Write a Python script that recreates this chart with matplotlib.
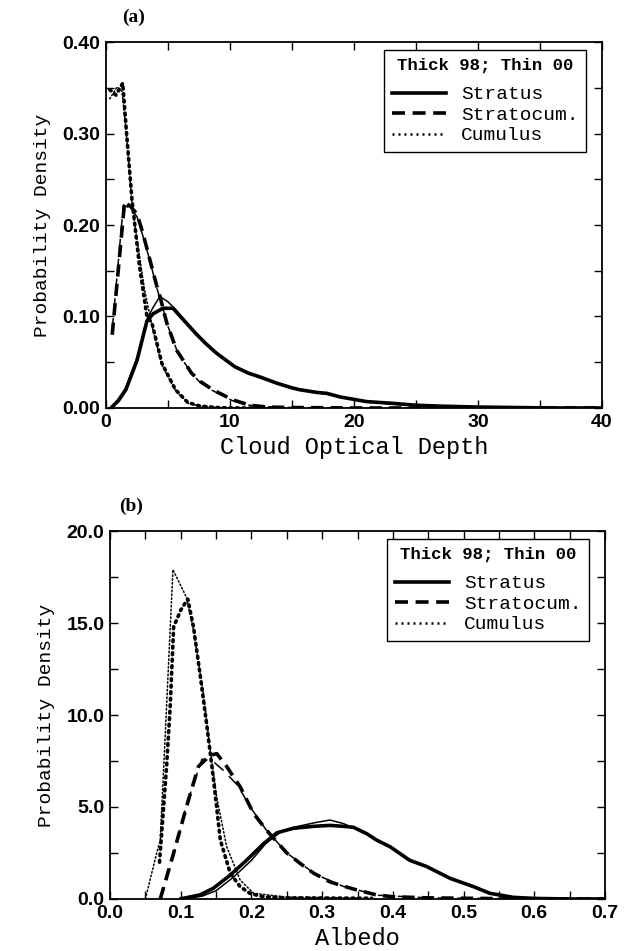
import numpy as np
import matplotlib
matplotlib.use("Agg")
import matplotlib.pyplot as plt
from matplotlib.lines import Line2D
from matplotlib.ticker import MultipleLocator, FormatStrFormatter

# ---- (a) cloud optical depth pdfs ----
tau_st98 = [0.4, 1.0, 1.6, 2.5, 3.3, 3.8, 4.6, 5.4, 6.4, 7.2, 8.0, 8.9, 10.4, 11.5, 12.4,
            13.8, 15.0, 15.6, 17.0, 17.8, 18.9, 21.0, 23.2, 25.0, 27.0, 30.0, 33.0, 36.0, 40.0]
pdf_st98 = [0.0, 0.008, 0.020, 0.052, 0.095, 0.103, 0.109, 0.109, 0.094, 0.082, 0.071, 0.060, 0.045, 0.038, 0.034,
            0.027, 0.022, 0.020, 0.017, 0.016, 0.012, 0.007, 0.005, 0.003, 0.002, 0.001, 0.0005, 0.0, 0.0]
tau_st00 = [0.4, 1.0, 1.6, 2.5, 3.3, 3.8, 4.35, 5.0, 5.6, 6.4, 7.2, 8.0, 8.9, 10.4, 12.4,
            13.8, 15.6, 17.8, 18.9, 21.0, 23.2, 27.0, 30.0, 35.0, 40.0]
pdf_st00 = [0.0, 0.010, 0.022, 0.055, 0.097, 0.110, 0.122, 0.116, 0.108, 0.095, 0.083, 0.071, 0.060, 0.045, 0.033,
            0.027, 0.020, 0.015, 0.012, 0.007, 0.004, 0.002, 0.001, 0.0, 0.0]

tau_sc98 = [0.5, 1.5, 2.0, 2.5, 3.0, 3.4, 4.1, 4.35, 4.9, 5.7, 6.9, 7.6, 8.6, 10.2, 11.6, 13.0, 15.0, 20.0, 30.0, 40.0]
pdf_sc98 = [0.080, 0.225, 0.220, 0.212, 0.190, 0.169, 0.133, 0.122, 0.093, 0.063, 0.038, 0.029, 0.020, 0.009, 0.003,
            0.001, 0.0005, 0.0, 0.0, 0.0]
tau_sc00 = [0.5, 1.4, 2.0, 2.5, 3.0, 3.5, 4.1, 4.4, 5.0, 5.8, 7.0, 7.6, 8.6, 10.2, 11.6, 13.0, 15.0, 20.0, 30.0, 40.0]
pdf_sc00 = [0.085, 0.222, 0.218, 0.209, 0.187, 0.163, 0.131, 0.118, 0.089, 0.060, 0.036, 0.028, 0.019, 0.008, 0.003,
            0.001, 0.0005, 0.0, 0.0, 0.0]

tau_cu98 = [0.3, 0.8, 1.35, 1.7, 2.1, 2.7, 3.3, 3.7, 4.5, 5.6, 6.6, 7.6, 9.0, 10.0, 14.0]
pdf_cu98 = [0.348, 0.342, 0.355, 0.293, 0.227, 0.155, 0.100, 0.093, 0.049, 0.020, 0.006, 0.002, 0.0005, 0.0, 0.0]
tau_cu00 = [0.3, 0.9, 1.3, 1.7, 2.1, 2.6, 3.1, 3.7, 4.5, 5.6, 6.6, 7.6, 9.0, 10.0, 14.0]
pdf_cu00 = [0.338, 0.351, 0.346, 0.290, 0.222, 0.175, 0.130, 0.090, 0.047, 0.019, 0.005, 0.002, 0.0005, 0.0, 0.0]

# ---- (b) albedo pdfs ----
alb_st98 = [0.099, 0.127, 0.146, 0.170, 0.193, 0.217, 0.236, 0.259, 0.288, 0.311, 0.330, 0.344, 0.363, 0.377,
            0.396, 0.424, 0.448, 0.481, 0.514, 0.537, 0.570, 0.600, 0.650, 0.700]
pdf_st98b = [0.0, 0.22, 0.58, 1.30, 2.10, 3.00, 3.60, 3.84, 3.95, 4.00, 3.95, 3.90, 3.55, 3.20,
             2.84, 2.10, 1.76, 1.12, 0.67, 0.31, 0.09, 0.03, 0.0, 0.0]
alb_st00 = [0.100, 0.130, 0.150, 0.175, 0.200, 0.220, 0.240, 0.260, 0.290, 0.311, 0.330, 0.360, 0.390, 0.420,
            0.450, 0.480, 0.510, 0.540, 0.570, 0.600, 0.650, 0.700]
pdf_st00b = [0.0, 0.15, 0.45, 1.20, 2.10, 3.00, 3.60, 3.90, 4.15, 4.29, 4.10, 3.60, 2.95, 2.20,
             1.70, 1.15, 0.70, 0.30, 0.09, 0.03, 0.0, 0.0]

alb_sc98 = [0.071, 0.090, 0.108, 0.125, 0.141, 0.151, 0.165, 0.184, 0.203, 0.221, 0.250, 0.269, 0.288, 0.311,
            0.330, 0.349, 0.377, 0.400, 0.450, 0.500, 0.550, 0.580, 0.620, 0.700]
pdf_sc98b = [0.0, 2.5, 5.0, 7.2, 7.8, 7.9, 7.2, 6.1, 4.65, 3.75, 2.5, 1.93, 1.4, 0.93,
             0.70, 0.49, 0.22, 0.12, 0.06, 0.04, 0.02, 0.01, 0.0, 0.0]
alb_sc00 = [0.072, 0.090, 0.108, 0.130, 0.145, 0.160, 0.180, 0.200, 0.220, 0.250, 0.290, 0.330, 0.380, 0.450,
            0.550, 0.620, 0.700]
pdf_sc00b = [0.0, 2.4, 5.1, 7.6, 7.5, 7.0, 6.2, 4.9, 3.8, 2.5, 1.35, 0.68, 0.2, 0.06, 0.02, 0.0, 0.0]

alb_cu98 = [0.070, 0.075, 0.080, 0.085, 0.090, 0.100, 0.110, 0.118, 0.127, 0.137, 0.146, 0.156, 0.170, 0.184,
            0.198, 0.217, 0.250, 0.300, 0.370]
pdf_cu98b = [2.0, 4.6, 7.2, 10.4, 14.8, 15.7, 16.3, 14.8, 12.3, 9.4, 6.6, 3.2, 1.4, 0.67,
             0.30, 0.12, 0.06, 0.05, 0.04]
alb_cu00 = [0.050, 0.066, 0.071, 0.080, 0.089, 0.108, 0.118, 0.132, 0.141, 0.151, 0.165, 0.184, 0.203, 0.250,
            0.300, 0.350]
pdf_cu00b = [0.0, 2.5, 3.2, 10.5, 17.9, 16.4, 14.6, 11.2, 8.3, 5.5, 2.84, 1.03, 0.31, 0.10, 0.08, 0.05]

legend_title = "Thick 98; Thin 00"
legend_names = ["Stratus", "Stratocum.", "Cumulus"]

MONO = "Liberation Mono"
SANS = "Liberation Sans"

thick = dict(color="black", lw=2.6)
thin = dict(color="black", lw=1.1)
solid = dict(ls="-", solid_capstyle="round")
dash_k = dict(ls=(0, (3.4, 2.0)), dash_capstyle="butt")
dash_n = dict(ls=(0, (8, 5)), dash_capstyle="butt")
dot_k = dict(ls=(0, (0.5, 1.3)), dash_capstyle="round")
dot_n = dict(ls=(0, (1.0, 1.5)), dash_capstyle="round")

fig = plt.figure(figsize=(6.28, 9.51), dpi=100)
ax_a = fig.add_axes([0.1688, 0.5710, 0.7898, 0.3848])
ax_b = fig.add_axes([0.1752, 0.0547, 0.7882, 0.3869])


def style_axes(ax, xmaj, xmin, ymaj, ymin, xfmt, yfmt):
    ax.xaxis.set_major_locator(MultipleLocator(xmaj))
    ax.xaxis.set_minor_locator(MultipleLocator(xmin))
    ax.yaxis.set_major_locator(MultipleLocator(ymaj))
    ax.yaxis.set_minor_locator(MultipleLocator(ymin))
    ax.xaxis.set_major_formatter(FormatStrFormatter(xfmt))
    ax.yaxis.set_major_formatter(FormatStrFormatter(yfmt))
    ax.tick_params(which="both", direction="in", top=True, right=True, width=1.0, color="black")
    ax.tick_params(which="major", length=6, pad=4)
    ax.tick_params(which="minor", length=6)
    for lab in ax.get_xticklabels() + ax.get_yticklabels():
        lab.set_fontfamily(SANS)
        lab.set_fontsize(14)
        lab.set_fontweight("bold")
    for s in ax.spines.values():
        s.set_linewidth(1.3)


def add_legend(ax):
    handles = [Line2D([], [], color="black", lw=2.6, ls="-"),
               Line2D([], [], color="black", lw=2.6, ls=(0, (3.6, 2.1))),
               Line2D([], [], color="black", lw=1.8, ls=(0, (0.8, 1.6)))]
    leg = ax.legend(handles, legend_names, title=legend_title, loc="upper right",
                    bbox_to_anchor=(0.968, 0.978), borderaxespad=0, frameon=True,
                    fancybox=False, edgecolor="black", framealpha=1,
                    handlelength=2.8, handletextpad=0.75, labelspacing=0.15,
                    borderpad=0.4, prop={"family": MONO, "size": 14})
    leg.get_frame().set_linewidth(1.0)
    leg.get_title().set_fontfamily(MONO)
    leg.get_title().set_fontsize(12.5)
    leg.get_title().set_fontweight("bold")
    # extra room between the title line and the entries
    leg._legend_box.sep = 9
    return leg


# (a) optical depth
ax_a.plot(tau_st98, pdf_st98, **thick, **solid)
ax_a.plot(tau_st00, pdf_st00, **thin, **solid)
ax_a.plot(tau_sc98, pdf_sc98, **thick, **dash_k)
ax_a.plot(tau_sc00, pdf_sc00, **thin, **dash_n)
ax_a.plot(tau_cu98, pdf_cu98, **thick, **dot_k)
ax_a.plot(tau_cu00, pdf_cu00, **thin, **dot_n)
ax_a.set_xlim(0, 40)
ax_a.set_ylim(0, 0.40)
style_axes(ax_a, 10, 5, 0.10, 0.05, "%d", "%.2f")
ax_a.set_xlabel("Cloud Optical Depth", fontfamily=MONO, fontsize=17, labelpad=4)
ax_a.set_ylabel("Probability Density", fontfamily=MONO, fontsize=14, labelpad=8)
add_legend(ax_a)
fig.text(0.212, 0.982, "(a)", fontfamily="Liberation Serif", fontweight="bold",
         fontsize=14, ha="center", va="center")

# (b) albedo
ax_b.plot(alb_st98, pdf_st98b, **thick, **solid)
ax_b.plot(alb_st00, pdf_st00b, **thin, **solid)
ax_b.plot(alb_sc98, pdf_sc98b, **thick, **dash_k)
ax_b.plot(alb_sc00, pdf_sc00b, **thin, **dash_n)
ax_b.plot(alb_cu98, pdf_cu98b, **thick, **dot_k)
ax_b.plot(alb_cu00, pdf_cu00b, **thin, **dot_n)
ax_b.set_xlim(0, 0.7)
ax_b.set_ylim(0, 20)
style_axes(ax_b, 0.1, 0.05, 5, 2.5, "%.1f", "%.1f")
ax_b.set_xlabel("Albedo", fontfamily=MONO, fontsize=17, labelpad=4)
ax_b.set_ylabel("Probability Density", fontfamily=MONO, fontsize=14, labelpad=8)
add_legend(ax_b)
fig.text(0.209, 0.468, "(b)", fontfamily="Liberation Serif", fontweight="bold",
         fontsize=14, ha="center", va="center")

fig.savefig("out.png", dpi=100)
